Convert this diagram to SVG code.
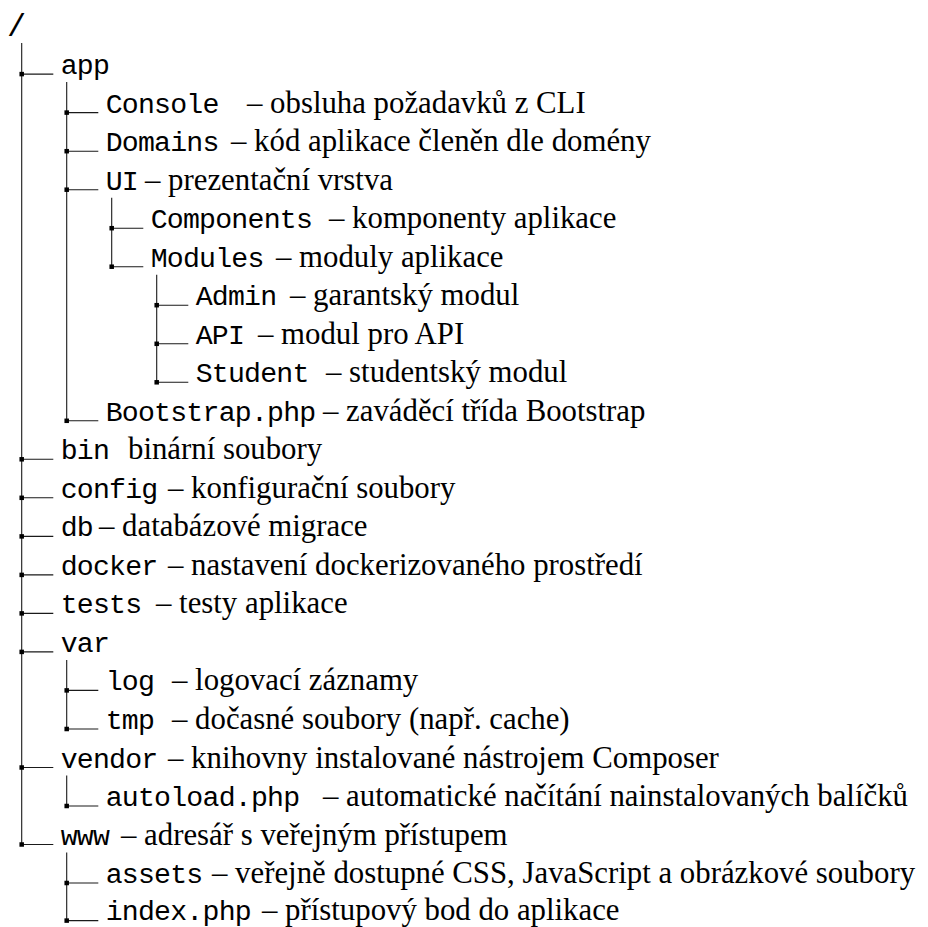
<svg xmlns="http://www.w3.org/2000/svg" width="928" height="927" viewBox="0 0 928 927">
<style>
.m{font-family:"Liberation Mono","DejaVu Sans Mono",monospace;font-size:28.2px;letter-spacing:-0.78px;fill:#000}
.s{font-family:"Liberation Serif","DejaVu Serif",serif;font-size:30.8px;fill:#000}
.ln{stroke:#1a1a1a;stroke-width:1.1;fill:none}
.dot{fill:#000}
</style>
<rect width="928" height="927" fill="#fff"/>
<g id="connectors">
<path class="ln" d="M21.7 43V844.5 M66.7 82V420.8 M111.7 197.7V266.7 M156.7 274.7V382.3 M66.7 659.9V729 M66.7 775.5V806 M66.7 852.5V920.6"/>
<path class="ln" d="M21.7 74.1h31.6 M21.7 459.3h31.6 M21.7 497.8h31.6 M21.7 536.4h31.6 M21.7 574.9h31.6 M21.7 613.4h31.6 M21.7 651.9h31.6 M21.7 767.5h31.6 M21.7 844.5h31.6
M66.7 112.6h31.6 M66.7 151.2h31.6 M66.7 189.7h31.6 M66.7 420.8h31.6
M111.7 228.2h31.6 M111.7 266.7h31.6
M156.7 305.2h31.6 M156.7 343.8h31.6 M156.7 382.3h31.6
M66.7 690.4h31.6 M66.7 729h31.6 M66.7 806h31.6 M66.7 883h31.6 M66.7 920.6h31.6"/>
<g class="dot">
<rect x="19.45" y="71.85" width="4.5" height="4.5"/>
<rect x="19.45" y="457.05" width="4.5" height="4.5"/>
<rect x="19.45" y="495.55" width="4.5" height="4.5"/>
<rect x="19.45" y="534.15" width="4.5" height="4.5"/>
<rect x="19.45" y="572.65" width="4.5" height="4.5"/>
<rect x="19.45" y="611.15" width="4.5" height="4.5"/>
<rect x="19.45" y="649.65" width="4.5" height="4.5"/>
<rect x="19.45" y="765.25" width="4.5" height="4.5"/>
<rect x="19.45" y="842.25" width="4.5" height="4.5"/>
<rect x="64.45" y="110.35" width="4.5" height="4.5"/>
<rect x="64.45" y="148.95" width="4.5" height="4.5"/>
<rect x="64.45" y="187.45" width="4.5" height="4.5"/>
<rect x="64.45" y="418.55" width="4.5" height="4.5"/>
<rect x="109.45" y="225.95" width="4.5" height="4.5"/>
<rect x="109.45" y="264.45" width="4.5" height="4.5"/>
<rect x="154.45" y="302.95" width="4.5" height="4.5"/>
<rect x="154.45" y="341.55" width="4.5" height="4.5"/>
<rect x="154.45" y="380.05" width="4.5" height="4.5"/>
<rect x="64.45" y="688.15" width="4.5" height="4.5"/>
<rect x="64.45" y="726.75" width="4.5" height="4.5"/>
<rect x="64.45" y="803.75" width="4.5" height="4.5"/>
<rect x="64.45" y="880.75" width="4.5" height="4.5"/>
<rect x="64.45" y="918.35" width="4.5" height="4.5"/>
</g>
</g>
<g id="root"><text class="m" x="7" y="35.6" style="font-size:32px">/</text></g>
<g id="app"><text class="m" x="60.7" y="74.1">app</text></g>
<g id="console"><text class="m" x="105.7" y="112.6">Console</text><text class="s" x="247" y="112.6">– obsluha požadavků z CLI</text></g>
<g id="domains"><text class="m" x="105.7" y="151.2">Domains</text><text class="s" x="231" y="151.2">– kód aplikace členěn dle domény</text></g>
<g id="ui"><text class="m" x="105.7" y="189.7">UI</text><text class="s" x="145" y="189.7">– prezentační vrstva</text></g>
<g id="components"><text class="m" x="150.7" y="228.2">Components</text><text class="s" x="329" y="228.2">– komponenty aplikace</text></g>
<g id="modules"><text class="m" x="150.7" y="266.7">Modules</text><text class="s" x="276" y="266.7">– moduly aplikace</text></g>
<g id="admin"><text class="m" x="195.7" y="305.2">Admin</text><text class="s" x="290" y="305.2">– garantský modul</text></g>
<g id="api"><text class="m" x="195.7" y="343.8">API</text><text class="s" x="258" y="343.8">– modul pro API</text></g>
<g id="student"><text class="m" x="195.7" y="382.3">Student</text><text class="s" x="326" y="382.3">– studentský modul</text></g>
<g id="bootstrap"><text class="m" x="105.7" y="420.8">Bootstrap.php</text><text class="s" x="323" y="420.8">– zaváděcí třída Bootstrap</text></g>
<g id="bin"><text class="m" x="60.7" y="459.3">bin</text><text class="s" x="128" y="459.3">binární soubory</text></g>
<g id="config"><text class="m" x="60.7" y="497.8">config</text><text class="s" x="168" y="497.8">– konfigurační soubory</text></g>
<g id="db"><text class="m" x="60.7" y="536.4">db</text><text class="s" x="99" y="536.4">– databázové migrace</text></g>
<g id="docker"><text class="m" x="60.7" y="574.9">docker</text><text class="s" x="168" y="574.9">– nastavení dockerizovaného prostředí</text></g>
<g id="tests"><text class="m" x="60.7" y="613.4">tests</text><text class="s" x="156" y="613.4">– testy aplikace</text></g>
<g id="var"><text class="m" x="60.7" y="651.9">var</text></g>
<g id="log"><text class="m" x="105.7" y="690.4">log</text><text class="s" x="172" y="690.4">– logovací záznamy</text></g>
<g id="tmp"><text class="m" x="105.7" y="729">tmp</text><text class="s" x="172" y="729">– dočasné soubory (např. cache)</text></g>
<g id="vendor"><text class="m" x="60.7" y="767.5">vendor</text><text class="s" x="168" y="767.5">– knihovny instalované nástrojem Composer</text></g>
<g id="autoload"><text class="m" x="105.7" y="806">autoload.php</text><text class="s" x="323" y="806">– automatické načítání nainstalovaných balíčků</text></g>
<g id="www"><text class="m" x="60.7" y="844.5">www</text><text class="s" x="121" y="844.5">– adresář s veřejným přístupem</text></g>
<g id="assets"><text class="m" x="105.7" y="883">assets</text><text class="s" x="212" y="883">– veřejně dostupné CSS, JavaScript a obrázkové soubory</text></g>
<g id="index"><text class="m" x="105.7" y="919.8">index.php</text><text class="s" x="262" y="919.8">– přístupový bod do aplikace</text></g>
</svg>
